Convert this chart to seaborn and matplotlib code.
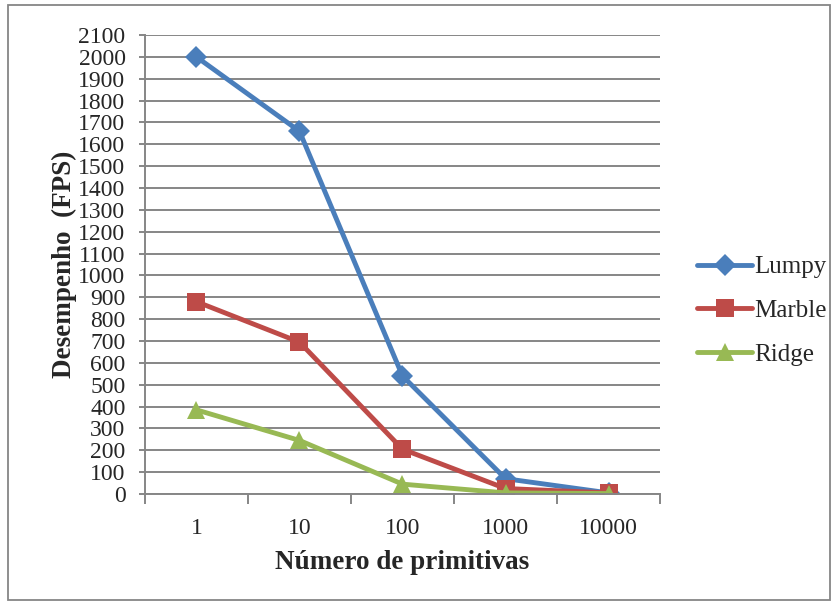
import numpy as np
import pandas as pd
import seaborn as sns
import matplotlib.pyplot as plt
from matplotlib.patches import Rectangle

# data
categorias = ['1', '10', '100', '1000', '10000']
lumpy = [2000, 1660, 540, 70, 5]
marble = [880, 695, 205, 25, 5]
ridge = [385, 245, 45, 5, 2]
series = ['Lumpy', 'Marble', 'Ridge']
cores = ['#4A7EBB', '#BE4B48', '#98B954']
marcadores = ['D', 's', '^']

df = pd.DataFrame({
    'x': categorias * 3,
    'fps': lumpy + marble + ridge,
    'serie': np.repeat(series, len(categorias)),
})

sns.set_style('white')
plt.rcParams['font.family'] = ['Liberation Serif', 'DejaVu Serif']

fig = plt.figure(figsize=(8.36, 6.05), dpi=100)
ax = fig.add_axes([0.1734, 0.1835, 0.6161, 0.7585])

sns.lineplot(data=df, x='x', y='fps', hue='serie', style='serie',
             palette=dict(zip(series, cores)),
             markers=dict(zip(series, marcadores)), dashes=False,
             linewidth=3.5, markersize=11, markeredgewidth=0, ax=ax,
             legend=False)

# square and triangle look a bit bigger than the diamond
tamanhos = {'D': 11, 's': 13, '^': 13}
for ln in ax.lines:
    ln.set_markersize(tamanhos.get(ln.get_marker(), 11))

ax.set_xlim(-0.5, len(categorias) - 0.5)
ax.set_ylim(0, 2100)
ax.set_yticks(np.arange(0, 2101, 100))
ax.yaxis.grid(True, color='#868686', linewidth=1.4)
ax.set_axisbelow(True)
for s in ['top', 'right']:
    ax.spines[s].set_visible(False)
for s in ['left', 'bottom']:
    ax.spines[s].set_color('#868686')
    ax.spines[s].set_linewidth(1.4)

ax.set_xticks(range(len(categorias)))
ax.set_xticklabels(categorias)
ax.set_xticks(np.arange(-0.5, len(categorias)), minor=True)
ax.tick_params(axis='x', which='major', length=0, labelsize=17, pad=17)
ax.tick_params(axis='x', which='minor', length=7, color='#868686', width=1.4,
               direction='out', bottom=True)
ax.tick_params(axis='y', length=4, color='#868686', width=1.4, direction='out',
               left=True, labelsize=17, pad=10)

ax.set_xlabel('Número de primitivas', fontsize=19.5, fontweight='bold', labelpad=8)
ax.set_ylabel('Desempenho  (FPS)', fontsize=19.5, fontweight='bold', labelpad=1)

handles = [plt.Line2D([], [], color=c, marker=m, linewidth=3.5,
                      markersize=tamanhos[m], markeredgewidth=0)
           for c, m in zip(cores, marcadores)]
ax.legend(handles, series, loc='center left', bbox_to_anchor=(1.072, 0.399),
          frameon=False, fontsize=18, handlelength=2.2, labelspacing=0.85,
          handletextpad=0.1, borderpad=0, borderaxespad=0)

fig.patches.append(Rectangle((0.009, 0.009), 0.984, 0.983, transform=fig.transFigure,
                             fill=False, edgecolor='#868686', linewidth=1.3))

fig.savefig('out.png', dpi=100)
